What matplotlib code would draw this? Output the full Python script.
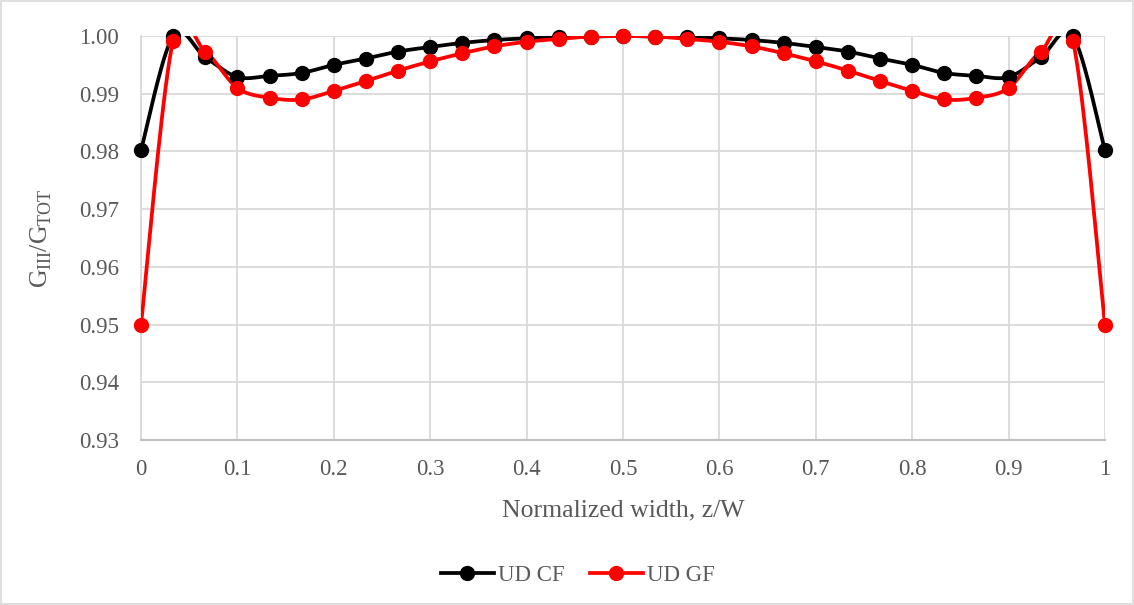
import numpy as np
import matplotlib.pyplot as plt
from matplotlib.lines import Line2D
from matplotlib.patches import Rectangle

plt.rcParams['font.family'] = ['Liberation Serif', 'DejaVu Serif']
plt.rcParams['mathtext.fontset'] = 'custom'
plt.rcParams['mathtext.rm'] = 'Liberation Serif'

# normalized width positions (31 stations)
z = [i / 30 for i in range(31)]

ud_cf = [0.9802, 1.0000, 0.9963, 0.9929, 0.9931, 0.9936, 0.9950, 0.9961,
         0.9973, 0.9981, 0.9988, 0.9993, 0.9996, 0.9998, 0.9999, 1.0000,
         0.9999, 0.9998, 0.9996, 0.9993, 0.9988, 0.9981, 0.9973, 0.9961,
         0.9950, 0.9936, 0.9931, 0.9929, 0.9963, 1.0000, 0.9802]
ud_gf = [0.9500, 0.9992, 0.9973, 0.9910, 0.9893, 0.9890, 0.9905, 0.9922,
         0.9940, 0.9956, 0.9970, 0.9982, 0.9990, 0.9995, 0.9999, 1.0000,
         0.9999, 0.9995, 0.9990, 0.9982, 0.9970, 0.9956, 0.9940, 0.9922,
         0.9905, 0.9890, 0.9893, 0.9910, 0.9973, 0.9992, 0.9500]

x_ticks = [0, 0.1, 0.2, 0.3, 0.4, 0.5, 0.6, 0.7, 0.8, 0.9, 1]
x_labels = ['0', '0.1', '0.2', '0.3', '0.4', '0.5', '0.6', '0.7', '0.8', '0.9', '1']
y_ticks = [0.93, 0.94, 0.95, 0.96, 0.97, 0.98, 0.99, 1.00]

TXT = '#595959'
GRID = '#d9d9d9'


def smooth(x, y, n=20):
    # Catmull-Rom style bezier, like spreadsheet "smoothed line"
    x = np.asarray(x, float)
    y = np.asarray(y, float)
    px = np.concatenate([[x[0]], x, [x[-1]]])
    py = np.concatenate([[y[0]], y, [y[-1]]])
    t = np.linspace(0, 1, n)[:, None]
    xs, ys = [], []
    for i in range(1, len(px) - 2):
        p0 = np.array([px[i], py[i]])
        p3 = np.array([px[i + 1], py[i + 1]])
        p1 = p0 + (p3 - np.array([px[i - 1], py[i - 1]])) / 6
        p2 = p3 - (np.array([px[i + 2], py[i + 2]]) - p0) / 6
        b = ((1 - t) ** 3) * p0 + 3 * ((1 - t) ** 2) * t * p1 + 3 * (1 - t) * t ** 2 * p2 + t ** 3 * p3
        xs.extend(b[:, 0])
        ys.extend(b[:, 1])
    return xs, ys


fig = plt.figure(figsize=(11.34, 6.05), dpi=100)
ax = fig.add_axes([141 / 1134, 1 - 440 / 605, (1105 - 141) / 1134, (440 - 36) / 605])

for vals, col in [(ud_cf, 'black'), (ud_gf, 'red')]:
    sx, sy = smooth(z, vals)
    ax.plot(sx, sy, color=col, lw=2.7, zorder=3)
    ax.plot(z, vals, 'o', color=col, ms=10, clip_on=False, zorder=4)

ax.set_xlim(0, 1)
ax.set_ylim(0.93, 1.0)
ax.set_xticks(x_ticks)
ax.set_xticklabels(x_labels)
ax.set_yticks(y_ticks)
ax.set_yticklabels([f'{v:.2f}' for v in y_ticks])
ax.tick_params(axis='x', length=0, labelsize=16.5, colors=TXT, pad=14)
ax.tick_params(axis='y', length=0, labelsize=16.5, colors=TXT, pad=16)
ax.grid(True, color=GRID, lw=1.3)
ax.set_axisbelow(True)
for s in ['top', 'right']:
    ax.spines[s].set_visible(False)
ax.spines['left'].set_color(GRID)
ax.spines['left'].set_linewidth(1.3)
ax.spines['bottom'].set_color('#bfbfbf')
ax.spines['bottom'].set_linewidth(1.5)

ax.set_xlabel('Normalized width, z/W', fontsize=18.5, color=TXT, labelpad=14)
ax.set_ylabel(r'G$_{\mathregular{III}}$/G$_{\mathregular{TOT}}$', fontsize=18.5, color=TXT, labelpad=18)

handles = [Line2D([], [], color='black', lw=2.7, marker='o', ms=10),
           Line2D([], [], color='red', lw=2.7, marker='o', ms=10)]
leg = fig.legend(handles, ['UD CF', 'UD GF'], loc='center', bbox_to_anchor=(578 / 1134, 1 - 575 / 605),
                 ncol=2, frameon=False, fontsize=16.5, handlelength=2.3, columnspacing=1.1, handletextpad=0.2)
for t in leg.get_texts():
    t.set_color(TXT)

fig.patches.append(Rectangle((0.001, 0.002), 0.998, 0.996, transform=fig.transFigure,
                             fill=False, edgecolor='#d9d9d9', lw=1.2))

fig.savefig('out.png', dpi=100)
